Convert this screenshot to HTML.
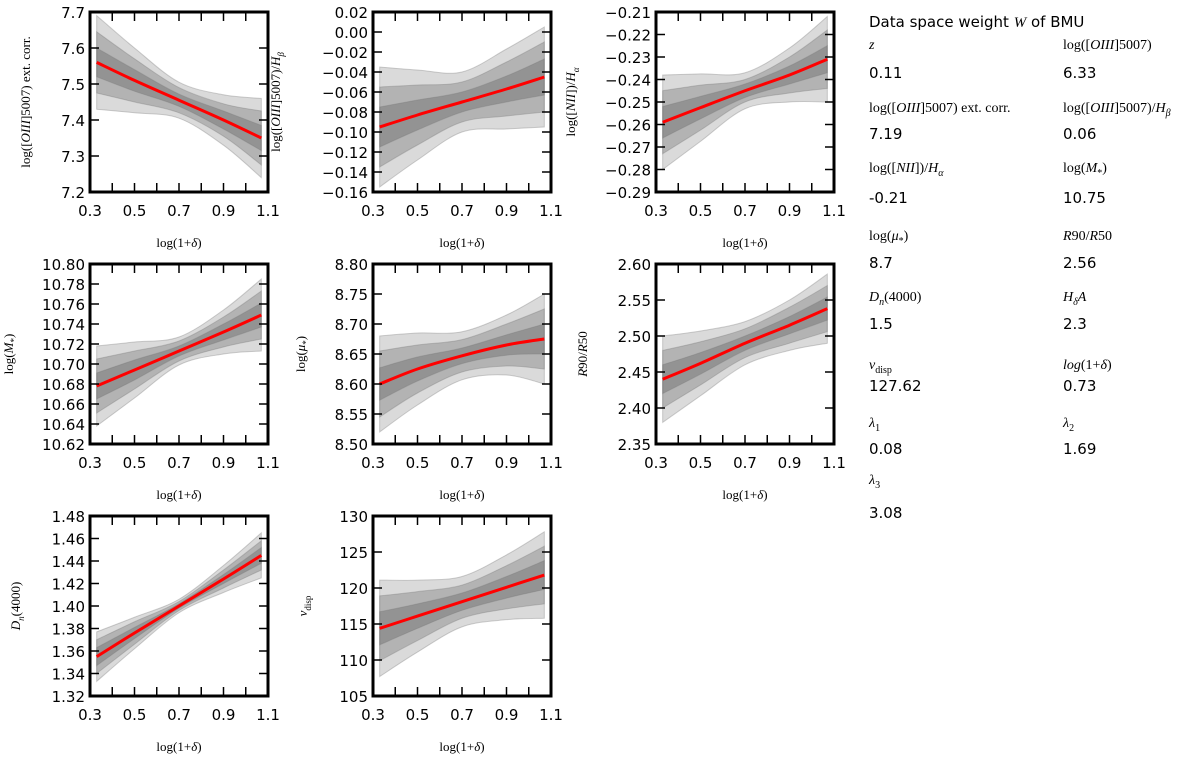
<!DOCTYPE html>
<html><head><meta charset="utf-8">
<style>
html,body{margin:0;padding:0;background:#fff;}
svg{display:block;}
.tk{font-family:"DejaVu Sans","Liberation Sans",sans-serif;font-size:15px;fill:#000;}
.lab{font-family:"Liberation Serif","DejaVu Serif",serif;font-size:13px;fill:#000;}
.info{font-family:"DejaVu Sans","Liberation Sans",sans-serif;font-size:15px;fill:#000;}
.infol{font-family:"Liberation Serif","DejaVu Serif",serif;font-size:14px;fill:#000;}
</style></head>
<body>
<svg id="fig" width="1200" height="761" viewBox="0 0 1200 761" xmlns="http://www.w3.org/2000/svg"></svg>
<script>
const NS="http://www.w3.org/2000/svg";
const xs=[0.33,0.5,0.7,0.9,1.07];
const xTicks=[0.3,0.5,0.7,0.9,1.1];
// per-panel data
const c1=[7.56,7.51,7.455,7.40,7.35], o1=[0.13,0.09,0.05,0.07,0.11], m1=[0.085,0.06,0.035,0.045,0.075], i1=[0.04,0.03,0.017,0.025,0.035];
const c2=[-0.095,-0.083,-0.07,-0.057,-0.045], o2=[0.06,0.045,0.03,0.04,0.05], m2=[0.04,0.03,0.02,0.027,0.035], i2=[0.02,0.015,0.01,0.013,0.018];
const c3=[-0.259,-0.2525,-0.245,-0.238,-0.231], o3=[0.021,0.015,0.008,0.012,0.019], m3=[0.014,0.01,0.005,0.008,0.013], i3=[0.007,0.005,0.003,0.004,0.006];
const c4=[10.678,10.694,10.713,10.732,10.749], o4=[0.04,0.028,0.014,0.022,0.036], m4=[0.027,0.019,0.01,0.015,0.024], i4=[0.013,0.01,0.005,0.008,0.012];
const c5=[8.60,8.625,8.647,8.665,8.675], o5=[0.08,0.06,0.04,0.05,0.075], m5=[0.055,0.04,0.027,0.035,0.05], i5=[0.027,0.02,0.013,0.017,0.025];
const c6=[2.44,2.462,2.49,2.515,2.538], o6=[0.06,0.045,0.03,0.035,0.048], m6=[0.04,0.03,0.02,0.025,0.032], i6=[0.02,0.015,0.01,0.012,0.016];
const c7=[1.355,1.376,1.40,1.424,1.445], o7=[0.022,0.014,0.006,0.012,0.02], m7=[0.015,0.01,0.004,0.008,0.013], i7=[0.008,0.005,0.002,0.004,0.007];
const c8=[114.4,116.1,118.1,120.1,121.8], o8=[6.7,5,3.5,4.5,6], m8=[4.5,3.4,2.3,3,4], i8=[2.3,1.7,1.2,1.5,2];
const yT1=["7.2","7.3","7.4","7.5","7.6","7.7"];
const yT2=["−0.16","−0.14","−0.12","−0.10","−0.08","−0.06","−0.04","−0.02","0.00","0.02"];
const yT3=["−0.29","−0.28","−0.27","−0.26","−0.25","−0.24","−0.23","−0.22","−0.21"];
const yT4=["10.62","10.64","10.66","10.68","10.70","10.72","10.74","10.76","10.78","10.80"];
const yT5=["8.50","8.55","8.60","8.65","8.70","8.75","8.80"];
const yT6=["2.35","2.40","2.45","2.50","2.55","2.60"];
const yT7=["1.32","1.34","1.36","1.38","1.40","1.42","1.44","1.46","1.48"];
const yT8=["105","110","115","120","125","130"];

const panels=[
 {n:"oiii-ext-corr",L:90,T:12,c:c1,o:o1,m:m1,i:i1,yt:yT1,ylab:'log([<tspan font-style="italic">OIII</tspan>]5007) ext. corr.',lo:-60},
 {n:"oiii-hbeta",L:373,T:12,c:c2,o:o2,m:m2,i:i2,yt:yT2,ylab:'log([<tspan font-style="italic">OIII</tspan>]5007)/<tspan font-style="italic">H</tspan><tspan font-size="9" dy="4" font-style="italic">β</tspan>',lo:-93},
 {n:"nii-halpha",L:656,T:12,c:c3,o:o3,m:m3,i:i3,yt:yT3,ylab:'log([<tspan font-style="italic">NII</tspan>])/<tspan font-style="italic">H</tspan><tspan font-size="9" dy="4" font-style="italic">α</tspan>',lo:-81},
 {n:"log-mstar",L:90,T:264,c:c4,o:o4,m:m4,i:i4,yt:yT4,ylab:'log(<tspan font-style="italic">M</tspan><tspan font-size="9" dy="4">*</tspan><tspan dy="-4">)</tspan>',lo:-77},
 {n:"log-mu",L:373,T:264,c:c5,o:o5,m:m5,i:i5,yt:yT5,ylab:'log(<tspan font-style="italic">μ</tspan><tspan font-size="9" dy="4">*</tspan><tspan dy="-4">)</tspan>',lo:-68},
 {n:"r90-r50",L:656,T:264,c:c6,o:o6,m:m6,i:i6,yt:yT6,ylab:'<tspan font-style="italic">R</tspan>90/<tspan font-style="italic">R</tspan>50',lo:-69},
 {n:"dn4000",L:90,T:516,c:c7,o:o7,m:m7,i:i7,yt:yT7,ylab:'<tspan font-style="italic">D</tspan><tspan font-size="9" dy="4" font-style="italic">n</tspan><tspan dy="-4">(4000)</tspan>',lo:-70},
 {n:"vdisp",L:373,T:516,c:c8,o:o8,m:m8,i:i8,yt:yT8,ylab:'<tspan font-style="italic">v</tspan><tspan font-size="9" dy="4">disp</tspan>',lo:-66}
];
const W=178,H=180;
const svg=document.getElementById('fig');
function mk(tag,attrs,parent){const e=document.createElementNS(NS,tag);for(const k in attrs)e.setAttribute(k,attrs[k]);(parent||svg).appendChild(e);return e;}
// Catmull-Rom smooth path through points
function smooth(pts,start){
  let d=(start?'M':'L')+pts[0][0]+','+pts[0][1];
  for(let k=0;k<pts.length-1;k++){
    const p0=pts[Math.max(k-1,0)],p1=pts[k],p2=pts[k+1],p3=pts[Math.min(k+2,pts.length-1)];
    const c1x=p1[0]+(p2[0]-p0[0])/6,c1y=p1[1]+(p2[1]-p0[1])/6;
    const c2x=p2[0]-(p3[0]-p1[0])/6,c2y=p2[1]-(p3[1]-p1[1])/6;
    d+=` C${c1x},${c1y} ${c2x},${c2y} ${p2[0]},${p2[1]}`;
  }
  return d;
}

panels.forEach(p=>{
  const g=mk('g',{});
  
  
  const y0=parseFloat(p.yt[0].replace('−','-')), y1=parseFloat(p.yt[p.yt.length-1].replace('−','-'));
  const X=v=>p.L+(v-0.3)/(1.1-0.3)*W;
  const Y=v=>p.T+H-(v-y0)/(y1-y0)*H;
  function band(hw,name,fill){
    const up=xs.map((x,k)=>[X(x),Y(p.c[k]+hw[k])]);
    const dn=xs.map((x,k)=>[X(x),Y(p.c[k]-hw[k])]).reverse();
    const d=smooth(up,true)+' '+smooth(dn,false)+'Z';
    const e=mk('path',{d:d,fill:fill,stroke:'rgba(120,120,120,0.35)','stroke-width':1},g);
    
    
  }
  band(p.o,'band-outer','rgba(150,150,150,0.35)');
  band(p.m,'band-middle','rgba(120,120,120,0.4)');
  band(p.i,'band-inner','rgba(100,100,100,0.4)');
  const d=smooth(xs.map((x,k)=>[X(x),Y(p.c[k])]),true);
  const ln=mk('path',{d:d,fill:'none',stroke:'#ff0000','stroke-width':3,'stroke-linejoin':'round'},g);
  
  
  for(let t=0.4;t<1.1-1e-6;t+=0.1){
    const x=X(t);
    mk('line',{x1:x,x2:x,y1:p.T,y2:p.T+9,stroke:'#000','stroke-width':1.5},g);
    mk('line',{x1:x,x2:x,y1:p.T+H,y2:p.T+H-9,stroke:'#000','stroke-width':1.5},g);
  }
  p.yt.forEach((s,k)=>{
    const v=parseFloat(s.replace('−','-'));const y=Y(v);
    if(k>0&&k<p.yt.length-1){
      mk('line',{x1:p.L,x2:p.L+9,y1:y,y2:y,stroke:'#000','stroke-width':1.5},g);
      mk('line',{x1:p.L+W,x2:p.L+W-9,y1:y,y2:y,stroke:'#000','stroke-width':1.5},g);
    }
    const t=mk('text',{x:p.L-5,y:y+6,'text-anchor':'end',class:'tk'},g);
    t.textContent=s;
    
    
  });
  xTicks.forEach(v=>{
    const t=mk('text',{x:X(v),y:p.T+H+24,'text-anchor':'middle',class:'tk'},g);
    t.textContent=v.toFixed(1);
    
    
  });
  mk('rect',{x:p.L,y:p.T,width:W,height:H,fill:'none',stroke:'#000','stroke-width':3},g);
  const xl=mk('text',{x:p.L+W/2,y:p.T+H+55,'text-anchor':'middle',class:'lab'},g);
  xl.innerHTML='log(1+<tspan font-style="italic">δ</tspan>)';
  
  
  const cx=p.L+p.lo, cy=p.T+H/2;
  const yl=mk('text',{x:cx,y:cy,'text-anchor':'middle',class:'lab',transform:`rotate(-90 ${cx} ${cy})`},g);
  yl.innerHTML=p.ylab;
  
  
});

const infoLabels=[
 ['<tspan font-style="italic">z</tspan>','log([<tspan font-style="italic">OIII</tspan>]5007)'],
 ['log([<tspan font-style="italic">OIII</tspan>]5007) ext. corr.','log([<tspan font-style="italic">OIII</tspan>]5007)/<tspan font-style="italic">H</tspan><tspan font-size="10" dy="4" font-style="italic">β</tspan>'],
 ['log([<tspan font-style="italic">NII</tspan>])/<tspan font-style="italic">H</tspan><tspan font-size="10" dy="4" font-style="italic">α</tspan>','log(<tspan font-style="italic">M</tspan><tspan font-size="10" dy="4">*</tspan><tspan dy="-4">)</tspan>'],
 ['log(<tspan font-style="italic">μ</tspan><tspan font-size="10" dy="4">*</tspan><tspan dy="-4">)</tspan>','<tspan font-style="italic">R</tspan>90/<tspan font-style="italic">R</tspan>50'],
 ['<tspan font-style="italic">D</tspan><tspan font-size="10" dy="4" font-style="italic">n</tspan><tspan dy="-4">(4000)</tspan>','<tspan font-style="italic">H</tspan><tspan font-size="10" dy="4" font-style="italic">δ</tspan><tspan dy="-4" font-style="italic">A</tspan>'],
 ['<tspan font-style="italic">v</tspan><tspan font-size="10" dy="4">disp</tspan>','<tspan font-style="italic">log</tspan>(1+<tspan font-style="italic">δ</tspan>)'],
 ['<tspan font-style="italic">λ</tspan><tspan font-size="10" dy="4">1</tspan>','<tspan font-style="italic">λ</tspan><tspan font-size="10" dy="4">2</tspan>'],
 ['<tspan font-style="italic">λ</tspan><tspan font-size="10" dy="4">3</tspan>','']
];
const infoVals=[['0.11','6.33'],['7.19','0.06'],['-0.21','10.75'],['8.7','2.56'],['1.5','2.3'],['127.62','0.73'],['0.08','1.69'],['3.08','']];
const labY=[45,108,168,236,297,365,423,480];
const valY=[72,133,197,262,323,385,448,512];
const ttl=mk('text',{x:869,y:27,class:'info'});
ttl.innerHTML='Data space weight <tspan font-family="Liberation Serif" font-style="italic">W</tspan> of BMU';


infoLabels.forEach((row,r)=>{
  [869,1063].forEach((x,c)=>{
    if(!row[c])return;
    const l=mk('text',{x:x,y:labY[r]+4,class:'infol'});
    l.innerHTML=row[c];
    
    
    const v=mk('text',{x:x,y:valY[r]+6,class:'info'});
    v.textContent=infoVals[r][c];
    
    
  });
});
</script>
</body></html>
